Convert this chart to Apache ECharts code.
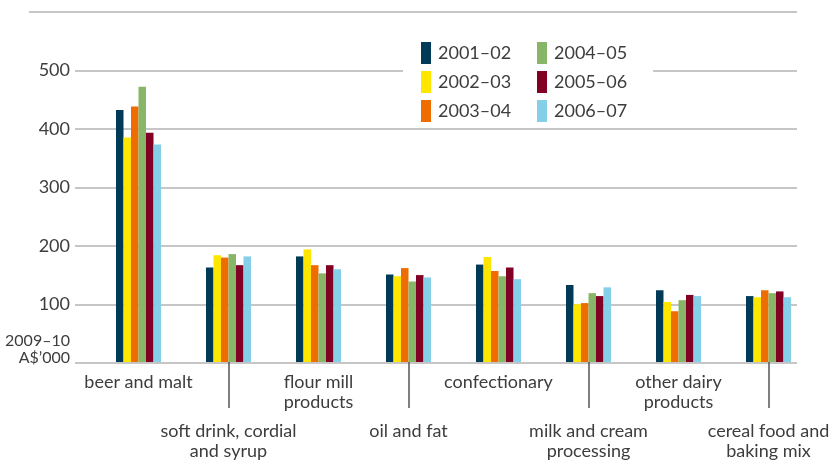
<!DOCTYPE html>
<html>
<head>
<meta charset="utf-8">
<script src="https://cdn.jsdelivr.net/npm/echarts@6/dist/echarts.min.js"></script>
<style>
  html, body { margin: 0; padding: 0; background: #fff; }
  #chart { width: 835px; height: 460px; }
</style>
</head>
<body>
<div id="chart"></div>
<script>
const categories = [
  'beer and malt',
  'soft drink, cordial\nand syrup',
  'flour mill\nproducts',
  'oil and fat',
  'confectionary',
  'milk and cream\nprocessing',
  'other dairy\nproducts',
  'cereal food and\nbaking mix'
]
const seriesNames = ['2001–02', '2002–03', '2003–04', '2004–05', '2005–06', '2006–07']
const colors = ['#003a57', '#ffe600', '#ee6c00', '#88b668', '#820024', '#85cfe8']

const v2001 = [432, 162, 181, 150, 167, 132, 123, 113]
const v2002 = [385, 183, 193, 147, 180, 99, 103, 111]
const v2003 = [438, 179, 166, 161, 156, 101, 87, 123]
const v2004 = [472, 185, 152, 138, 147, 118, 106, 118]
const v2005 = [393, 166, 166, 149, 162, 113, 115, 121]
const v2006 = [373, 181, 159, 145, 142, 128, 113, 111]
const values = [v2001, v2002, v2003, v2004, v2005, v2006]

const yMin = 0
const yMax = 600
const yStep = 100

const font = 'Lato'
const textColor = '#3d3d3d'
const gridColor = '#c6c6c6'

const chart = echarts.init(document.getElementById('chart'))

const legendCommon = {
  orient: 'vertical',
  top: 42,
  itemWidth: 10,
  itemHeight: 22,
  itemGap: 7,
  icon: 'rect',
  backgroundColor: '#fff',
  textStyle: { fontFamily: font, fontSize: 18, color: textColor, padding: [0, 0, 0, 2] }
}

chart.setOption({
  animation: false,
  color: colors,
  textStyle: { fontFamily: font },
  legend: [
    Object.assign({}, legendCommon, { left: 403, padding: [0, 0, 0, 18], data: seriesNames.slice(0, 3) }),
    Object.assign({}, legendCommon, { left: 509, padding: [0, 26, 0, 28], data: seriesNames.slice(3) })
  ],
  grid: [
    { left: 75, right: 38, top: 12, bottom: 97 },
    { left: 93.5, right: 21.5, top: 12, bottom: 97 }
  ],
  xAxis: [
    { type: 'category', gridIndex: 0, data: categories, show: false },
    {
      type: 'category',
      gridIndex: 1,
      data: categories,
      axisLine: { show: false },
      axisTick: {
        show: true,
        alignWithLabel: true,
        interval: i => i % 2 === 1,
        length: 46,
        lineStyle: { color: '#555', width: 1.5 }
      },
      axisLabel: {
        interval: 0,
        margin: 10,
        formatter: (val, i) => {
          const lines = val.split('\n').map(s => `{t|${s}}`)
          // every second label sits on a lower row, hung off its tick
          if (i % 2 === 1) lines.unshift('{sp| }')
          return lines.join('\n')
        },
        rich: {
          t: { fontFamily: font, fontSize: 18, lineHeight: 20, color: textColor },
          sp: { fontSize: 10, lineHeight: 49 }
        }
      }
    }
  ],
  yAxis: [
    {
      type: 'value',
      gridIndex: 0,
      min: yMin,
      max: yMax,
      interval: yStep,
      axisLine: { show: false },
      axisTick: { show: false },
      splitLine: { lineStyle: { color: gridColor, width: 2 } },
      axisLabel: {
        margin: 5,
        formatter: v => {
          if (v === 0) return '{u|2009–10}\n{u|A$’000}\n{sp| }'
          if (v === yMax) return ''
          return '{n|' + v + '}'
        },
        rich: {
          n: { fontFamily: font, fontSize: 18, color: textColor },
          u: { fontFamily: font, fontSize: 16, lineHeight: 17, color: textColor, align: 'right' },
          sp: { fontSize: 10, lineHeight: 27 }
        }
      }
    },
    { type: 'value', gridIndex: 1, min: yMin, max: yMax, interval: yStep, show: false, splitLine: { show: false } }
  ],
  graphic: [
    {
      type: 'line',
      shape: { x1: 29, y1: 12, x2: 797, y2: 12 },
      style: { stroke: gridColor, lineWidth: 2 },
      z: -1
    }
  ],
  series: seriesNames.map((name, i) => ({
    name,
    type: 'bar',
    xAxisIndex: 1,
    yAxisIndex: 1,
    barWidth: 7.5,
    barGap: '0%',
    data: values[i]
  }))
})
</script>
</body>
</html>
